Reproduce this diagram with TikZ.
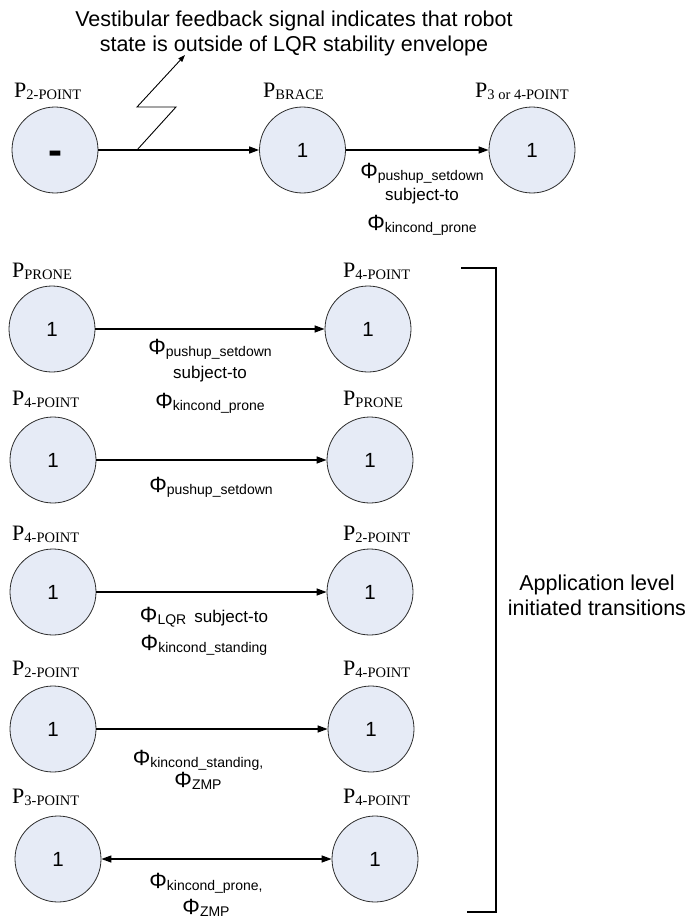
\documentclass[tikz,border=0pt]{standalone}
\usepackage{fontspec}
\setmainfont{Liberation Sans}
\newfontfamily\serifP{Liberation Serif}
\usetikzlibrary{arrows.meta}
\definecolor{statefill}{RGB}{230,235,246}
\definecolor{stateline}{RGB}{45,45,45}
\newcommand{\Plab}[1]{{\serifP\fontsize{22}{22}\selectfont P\raisebox{-2pt}{\fontsize{14.5}{14.5}\selectfont #1}}}
\newcommand{\Phisub}[1]{{\fontsize{22}{22}\selectfont Φ}\raisebox{-2pt}{\fontsize{14}{14}\selectfont #1}}
\tikzset{
  state/.style={circle, draw=stateline, line width=0.8pt, fill=statefill, minimum size=86pt, inner sep=0pt, font=\fontsize{20.5}{20.5}\selectfont},
  trans/.style={line width=1.3pt, -{Triangle[length=10pt,width=7pt]}},
  btrans/.style={line width=1.3pt, {Triangle[length=10pt,width=7pt]}-{Triangle[length=10pt,width=7pt]}},
  plabel/.style={anchor=base west, inner sep=0pt},
  tlabel/.style={anchor=base, align=center, inner sep=0pt, font=\fontsize{17}{24}\selectfont},
  bigtext/.style={anchor=base, align=center, inner sep=0pt, font=\fontsize{21.5}{25}\selectfont}
}
\begin{document}
\begin{tikzpicture}[x=1pt, y=-1pt]
\useasboundingbox (0,0) rectangle (694,923);

% top text (anchor base = last line)
\node[bigtext] (vest) at (294,52) {Vestibular feedback signal indicates that robot\\state is outside of LQR stability envelope};

% top row
\node[state, font=\fontsize{42}{42}\bfseries] (t1) at (55,150) {\raisebox{-14pt}[0pt][0pt]{-}};
\node[state] (t2) at (302.5,150) {1};
\node[state] (t3) at (532,150) {1};
\node[plabel] (lt1) at (14,98) {\Plab{2-POINT}};
\node[plabel] (lt2) at (263,98) {\Plab{BRACE}};
\node[plabel] (lt3) at (475,98) {\Plab{3 or 4-POINT}};
\draw[trans] (t1) -- (t2);
\draw[trans] (t2) -- (t3);
\coordinate (z0) at (137,150);
\coordinate (ztip) at (185,55);
\draw[line width=0.9pt, -{Triangle[length=7pt,width=5pt]}] (z0) -- (176,107) -- (137,107) -- (ztip);
\node[tlabel, font=\fontsize{17}{22}\selectfont] (l0) at (422,230) {\Phisub{pushup\_setdown}\\subject-to\\[8pt]\Phisub{kincond\_prone}};

% row 1
\node[state] (a1) at (52,329) {1};
\node[state] (b1) at (368,329) {1};
\node[plabel] (la1) at (12,277) {\Plab{PRONE}};
\node[plabel] (lb1) at (343,277) {\Plab{4-POINT}};
\draw[trans] (a1) -- (b1);
\node[tlabel] (l1) at (210,408) {\Phisub{pushup\_setdown}\\subject-to\\[6pt]\Phisub{kincond\_prone}};

% row 2
\node[state] (a2) at (53,460) {1};
\node[state] (b2) at (370,460) {1};
\node[plabel] (la2) at (12,405) {\Plab{4-POINT}};
\node[plabel] (lb2) at (343,405) {\Plab{PRONE}};
\draw[trans] (a2) -- (b2);
\node[tlabel] (l2) at (211,492) {\Phisub{pushup\_setdown}};

% row 3
\node[state] (a3) at (53,592) {1};
\node[state] (b3) at (370,592) {1};
\node[plabel] (la3) at (12,540) {\Plab{4-POINT}};
\node[plabel] (lb3) at (343,540) {\Plab{2-POINT}};
\draw[trans] (a3) -- (b3);
\node[tlabel] (l3) at (204,650) {\Phisub{LQR}\hspace{8pt}subject-to\\[4pt]\Phisub{kincond\_standing}};

% row 4
\node[state] (a4) at (53,729) {1};
\node[state] (b4) at (371,729) {1};
\node[plabel] (la4) at (12,675) {\Plab{2-POINT}};
\node[plabel] (lb4) at (343,675) {\Plab{4-POINT}};
\draw[trans] (a4) -- (b4);
\node[tlabel] (l4) at (198,787) {\Phisub{kincond\_standing,}\\[-2pt]\Phisub{ZMP}};

% row 5
\node[state] (a5) at (58,859) {1};
\node[state] (b5) at (375,859) {1};
\node[plabel] (la5) at (12,803) {\Plab{3-POINT}};
\node[plabel] (lb5) at (343,803) {\Plab{4-POINT}};
\draw[btrans] (a5) -- (b5);
\node[tlabel] (l5) at (206,914) {\Phisub{kincond\_prone,}\\[2pt]\Phisub{ZMP}};

% bracket
\coordinate (bt) at (461,268);
\coordinate (bb) at (467,912);
\draw[line width=1.6pt] (bt) -- (496,268) -- (496,912) -- (bb);
\node[bigtext] (app) at (597,615) {Application level\\initiated transitions};
\end{tikzpicture}
\end{document}
